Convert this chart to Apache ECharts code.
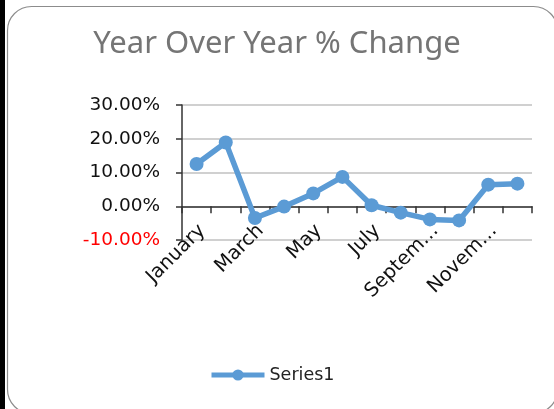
<!DOCTYPE html>
<html>
<head>
<meta charset="utf-8">
<script src="https://cdn.jsdelivr.net/npm/echarts@6/dist/echarts.min.js"></script>
<style>
html,body{margin:0;padding:0;background:#fff;}
#chart{width:554px;height:409px;}
</style>
</head>
<body>
<div id="chart"></div>
<script>
const categories = ['January','February','March','April','May','June','July','August','September','October','November','December'];
const series1 = [12.5, 18.9, -3.5, -0.1, 3.8, 8.7, 0.3, -1.9, -3.9, -4.2, 6.4, 6.7];
const yTicks = [-10, 0, 10, 20, 30];
const titleText = 'Year Over Year % Change';
const seriesName = 'Series1';

const chart = echarts.init(document.getElementById('chart'), null, {renderer:'canvas'});
const lbl = 'DejaVu Sans';
chart.setOption({
  animation: false,
  backgroundColor: '#fff',
  graphic: [
    {type:'rect', shape:{x:0,y:0,width:5,height:409}, style:{fill:'#000'}, z:-1},
    {type:'rect', shape:{x:7.5,y:6.5,width:550,height:407,r:24}, style:{fill:'none',stroke:'#8c8c8c',lineWidth:1.2}, z:-1}
  ],
  title: {
    text: titleText, left: 'center', top: 29,
    textStyle: {fontFamily:'Noto Sans', fontSize:31, fontWeight:'normal', color:'#757575'},
    padding: 0
  },
  legend: {
    data: [seriesName], left: 209, top: 366, itemWidth: 53, itemHeight: 14, itemGap: 4,
    lineStyle: {width: 5},
    textStyle: {fontFamily: lbl, fontSize: 17.5, color:'#222'}, padding: 0
  },
  grid: {left: 182, right: 22, top: 105, bottom: 169},
  xAxis: [
    {
      type:'category', data: categories, boundaryGap: true,
      axisLine:{show:true, onZero:true, lineStyle:{color:'#333', width:1.5}},
      axisTick:{show:true, interval:0, length:7, inside:false, lineStyle:{color:'#333', width:1.5}},
      axisLabel:{show:false}, splitLine:{show:false}
    },
    {
      type:'category', data: categories, boundaryGap: true, position:'bottom',
      axisLine:{show:false, onZero:false}, axisTick:{show:false},
      axisLabel:{show:true, interval:1, rotate:45, margin:-18, verticalAlign:'top', lineHeight:16,
        fontFamily: lbl, fontSize:19.5, color:'#111',
        width: 97, overflow:'truncate', ellipsis:'…'},
      splitLine:{show:false}
    }
  ],
  yAxis: {
    type:'value', min: yTicks[0], max: yTicks[yTicks.length-1], interval: 10,
    axisLine:{show:true, lineStyle:{color:'#333', width:1.5}},
    axisTick:{show:true, length:6, lineStyle:{color:'#333', width:1.5}},
    splitLine:{show:true, lineStyle:{color:'#c0c0c0', width:1.5}},
    axisLabel:{margin:22, fontFamily: lbl, fontSize:18.5,
      formatter: v => v.toFixed(2) + '%',
      color: v => (Number(v) < 0 ? '#ff0000' : '#111')}
  },
  series: [{
    name: seriesName, type:'line', xAxisIndex:0, data: series1,
    symbol:'circle', symbolSize:14,
    lineStyle:{color:'#5b9bd5', width:5.5},
    itemStyle:{color:'#5b9bd5'}
  }]
});
</script>
</body>
</html>
